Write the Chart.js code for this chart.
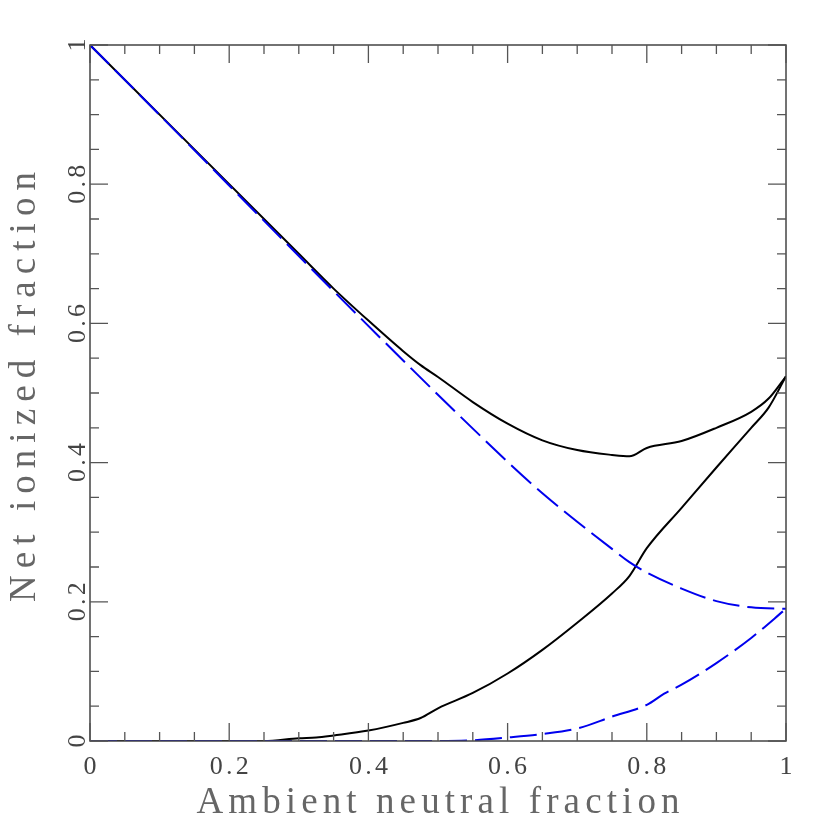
<!DOCTYPE html>
<html>
<head>
<meta charset="utf-8">
<script src="https://cdn.jsdelivr.net/npm/chart.js@4.4.1/dist/chart.umd.min.js"></script>
<style>
  html, body { margin: 0; padding: 0; background: #fff; }
  #wrap { width: 830px; height: 830px; }
</style>
</head>
<body>
<div id="wrap"><canvas id="chart" width="830" height="830"></canvas></div>
<script>
// values
const xUpperBlack = [0, 0.3, 0.35, 0.4, 0.45, 0.475, 0.5, 0.55, 0.6, 0.65, 0.7, 0.75, 0.775, 0.8, 0.85, 0.9, 0.95, 0.975, 1];
const upperBlack = [1, 0.7, 0.65, 0.604, 0.56, 0.54, 0.523, 0.487, 0.456, 0.432, 0.418, 0.411, 0.409, 0.421, 0.431, 0.45, 0.473, 0.492, 0.524];

const xLowerBlack = [0, 0.25, 0.3, 0.325, 0.35, 0.4, 0.45, 0.475, 0.5, 0.55, 0.6, 0.65, 0.7, 0.75, 0.775, 0.8, 0.85, 0.9, 0.95, 0.975, 1];
const lowerBlack = [0, 0, 0.004, 0.005, 0.008, 0.015, 0.026, 0.033, 0.047, 0.069, 0.097, 0.131, 0.17, 0.212, 0.237, 0.277, 0.335, 0.393, 0.45, 0.479, 0.524];

const xUpperBlue = [0, 0.6, 0.65, 0.7, 0.75, 0.775, 0.8, 0.85, 0.9, 0.95, 1];
const upperBlue = [1, 0.401, 0.356, 0.315, 0.276, 0.257, 0.242, 0.219, 0.201, 0.192, 0.19];

const xLowerBlue = [0, 0.5, 0.55, 0.6, 0.65, 0.7, 0.75, 0.8, 0.825, 0.85, 0.9, 0.95, 1];
const lowerBlue = [0, 0, 0.001, 0.005, 0.01, 0.018, 0.035, 0.052, 0.068, 0.081, 0.112, 0.148, 0.19];

const majorTicks = [0, 0.2, 0.4, 0.6, 0.8, 1];
const tickLabels = ['0', '0.2', '0.4', '0.6', '0.8', '1'];
const minorStep = 0.05;

const xTitle = 'Ambient neutral fraction';
const yTitle = 'Net ionized fraction';

function pts(xs, ys) {
    return xs.map((x, i) => ({ x: x, y: ys[i] }));
}

const FONT = '"Liberation Serif", "DejaVu Serif", serif';

// serif text spread out to a given width (the original uses a wide plotter font)
function plotText(ctx, text, x, y, rot, size, width, color) {
    ctx.save();
    ctx.translate(x, y);
    ctx.rotate(rot);
    ctx.font = size + 'px ' + FONT;
    ctx.fillStyle = color;
    ctx.textBaseline = 'alphabetic';
    ctx.textAlign = 'left';
    ctx.letterSpacing = '0px';
    const w = ctx.measureText(text).width;
    const sp = text.length > 1 ? (width - w) / (text.length - 1) : 0;
    ctx.letterSpacing = sp + 'px';
    const start = text.length > 1 ? -width / 2 : -w / 2;
    ctx.fillText(text, start, 0);
    ctx.restore();
}

// box with inward ticks on all four sides, labels and titles
const framePlugin = {
    id: 'frame',
    afterDraw(chart) {
        const ctx = chart.ctx;
        const xs = chart.scales.x, ys = chart.scales.y;
        const a = chart.chartArea;

        ctx.save();
        ctx.strokeStyle = '#444';
        ctx.lineWidth = 1.5;
        ctx.strokeRect(a.left, a.top, a.right - a.left, a.bottom - a.top);

        ctx.strokeStyle = '#555';
        ctx.lineWidth = 1.3;
        for (let v = 0; v <= 1.0001; v += minorStep) {
            const val = Math.round(v * 100) / 100;
            const major = majorTicks.some(t => Math.abs(t - val) < 1e-6);
            const len = major ? 18 : 9;
            const px = xs.getPixelForValue(val);
            const py = ys.getPixelForValue(val);
            ctx.beginPath();
            ctx.moveTo(px, a.bottom); ctx.lineTo(px, a.bottom - len);
            ctx.moveTo(px, a.top); ctx.lineTo(px, a.top + len);
            ctx.moveTo(a.left, py); ctx.lineTo(a.left + len, py);
            ctx.moveTo(a.right, py); ctx.lineTo(a.right - len, py);
            ctx.stroke();
        }

        majorTicks.forEach((t, i) => {
            const lw = tickLabels[i].length > 1 ? 39 : 13;
            plotText(ctx, tickLabels[i], xs.getPixelForValue(t), a.bottom + 33, 0, 26, lw, '#444');
            plotText(ctx, tickLabels[i], a.left - 5, ys.getPixelForValue(t), -Math.PI / 2, 26, lw, '#444');
        });

        plotText(ctx, xTitle, (a.left + a.right) / 2, 813, 0, 37, 483, '#666');
        plotText(ctx, yTitle, 35, 387, -Math.PI / 2, 37, 430, '#666');
        ctx.restore();
    }
};

const dash = [27, 8];

new Chart(document.getElementById('chart'), {
    type: 'line',
    data: {
        datasets: [
            {
                data: pts(xUpperBlue, upperBlue),
                borderColor: '#0000ee',
                borderWidth: 2,
                borderDash: dash,
                order: 0
            },
            {
                data: pts(xLowerBlue, lowerBlue),
                borderColor: '#0000ee',
                borderWidth: 2,
                borderDash: dash,
                order: 0
            },
            {
                data: pts(xUpperBlack, upperBlack),
                borderColor: '#000',
                borderWidth: 2,
                order: 1
            },
            {
                data: pts(xLowerBlack, lowerBlack),
                borderColor: '#000',
                borderWidth: 2,
                order: 1
            }
        ]
    },
    options: {
        responsive: false,
        devicePixelRatio: 1,
        animation: false,
        elements: {
            point: { radius: 0 },
            line: { cubicInterpolationMode: 'monotone', fill: false }
        },
        layout: { padding: { top: 45, right: 44, left: 0, bottom: 0 } },
        plugins: {
            legend: { display: false },
            tooltip: { enabled: false }
        },
        scales: {
            x: {
                type: 'linear',
                min: 0,
                max: 1,
                grid: { display: false },
                border: { display: false },
                ticks: { display: false },
                afterFit: s => { s.height = 89; }
            },
            y: {
                min: 0,
                max: 1,
                grid: { display: false },
                border: { display: false },
                ticks: { display: false },
                afterFit: s => { s.width = 90; }
            }
        }
    },
    plugins: [framePlugin]
});
</script>
</body>
</html>
